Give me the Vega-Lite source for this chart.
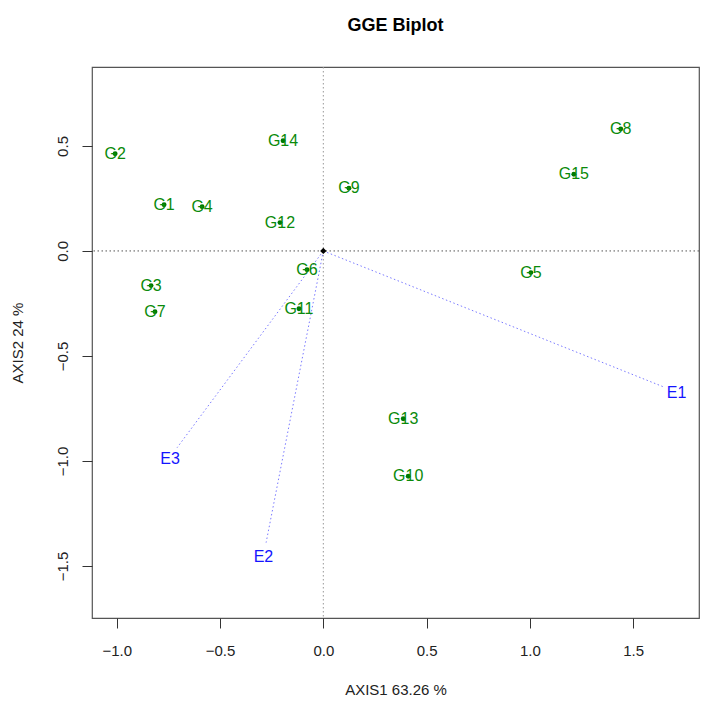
{
  "$schema": "https://vega.github.io/schema/vega-lite/v6.json",
  "autosize": "none",
  "width": 607,
  "height": 551,
  "padding": {"left": 92, "top": 67, "right": 24, "bottom": 93},
  "background": "white",
  "title": {"text": "GGE Biplot", "font": "Liberation Sans", "fontSize": 18, "fontWeight": "bold", "color": "#000", "offset": 32, "anchor": "middle"},
  "config": {
    "view": {"stroke": "#555", "strokeWidth": 1.2},
    "axis": {"grid": false, "domain": false, "tickColor": "#333", "tickSize": 10, "labelFont": "Liberation Sans", "labelFontSize": 15, "labelColor": "#222", "titleFont": "Liberation Sans", "titleFontSize": 15, "titleFontWeight": "normal", "titleColor": "#222"}
  },
  "datasets": {
    "genotypes": [
      {"g": "G1", "x": -0.771, "y": 0.22},
      {"g": "G2", "x": -1.008, "y": 0.463},
      {"g": "G3", "x": -0.834, "y": -0.165},
      {"g": "G4", "x": -0.587, "y": 0.211},
      {"g": "G5", "x": 1.005, "y": -0.103},
      {"g": "G6", "x": -0.079, "y": -0.089},
      {"g": "G7", "x": -0.815, "y": -0.289},
      {"g": "G8", "x": 1.44, "y": 0.581},
      {"g": "G9", "x": 0.124, "y": 0.299},
      {"g": "G10", "x": 0.411, "y": -1.073},
      {"g": "G11", "x": -0.118, "y": -0.275},
      {"g": "G12", "x": -0.21, "y": 0.135},
      {"g": "G13", "x": 0.387, "y": -0.799},
      {"g": "G14", "x": -0.195, "y": 0.525},
      {"g": "G15", "x": 1.213, "y": 0.365}
    ],
    "environments": [
      {"e": "E1", "ox": 0, "oy": 0, "ex": 1.644, "ey": -0.646, "lx": 1.71, "ly": -0.676},
      {"e": "E2", "ox": 0, "oy": 0, "ex": -0.277, "ey": -1.389, "lx": -0.29, "ly": -1.457},
      {"e": "E3", "ox": 0, "oy": 0, "ex": -0.708, "ey": -0.937, "lx": -0.742, "ly": -0.989}
    ],
    "origin": [{"x": 0, "y": 0}]
  },
  "layer": [
    {
      "data": {"name": "origin"},
      "mark": {"type": "rule", "color": "#999", "strokeDash": [1.5, 2.5], "strokeWidth": 1},
      "encoding": {
        "x": {"field": "x", "type": "quantitative", "scale": {"domain": [-1.12, 1.819], "nice": false, "zero": false},
              "axis": {"values": [-1, -0.5, 0, 0.5, 1, 1.5], "format": ".1f", "title": "AXIS1 63.26 %", "labelPadding": 15, "titlePadding": 24}}
      }
    },
    {
      "data": {"name": "origin"},
      "mark": {"type": "rule", "color": "#555", "strokeDash": [1.5, 2.5], "strokeWidth": 1},
      "encoding": {
        "y": {"field": "y", "type": "quantitative", "scale": {"domain": [-1.748, 0.876], "nice": false, "zero": false},
              "axis": {"values": [-1.5, -1, -0.5, 0, 0.5], "format": ".1f", "title": "AXIS2 24 %", "labelAngle": -90, "labelAlign": "center", "labelBaseline": "bottom", "labelPadding": 12, "titlePadding": 30}}
      }
    },
    {
      "data": {"name": "environments"},
      "mark": {"type": "rule", "color": "#7a7aff", "strokeDash": [1.5, 2.5], "strokeWidth": 1},
      "encoding": {
        "x": {"field": "ox", "type": "quantitative"},
        "y": {"field": "oy", "type": "quantitative"},
        "x2": {"field": "ex"},
        "y2": {"field": "ey"}
      }
    },
    {
      "data": {"name": "environments"},
      "mark": {"type": "text", "color": "#1414ff", "font": "Liberation Sans", "fontSize": 16, "align": "center", "baseline": "middle"},
      "encoding": {
        "x": {"field": "lx", "type": "quantitative"},
        "y": {"field": "ly", "type": "quantitative"},
        "text": {"field": "e"}
      }
    },
    {
      "data": {"name": "genotypes"},
      "mark": {"type": "point", "filled": true, "color": "#007a00", "size": 24, "opacity": 1},
      "encoding": {
        "x": {"field": "x", "type": "quantitative"},
        "y": {"field": "y", "type": "quantitative"}
      }
    },
    {
      "data": {"name": "genotypes"},
      "mark": {"type": "text", "color": "#0a8a0a", "font": "Liberation Sans", "fontSize": 16, "align": "center", "baseline": "middle"},
      "encoding": {
        "x": {"field": "x", "type": "quantitative"},
        "y": {"field": "y", "type": "quantitative"},
        "text": {"field": "g"}
      }
    },
    {
      "data": {"name": "origin"},
      "mark": {"type": "point", "shape": "diamond", "filled": true, "color": "#000", "size": 40, "opacity": 1},
      "encoding": {
        "x": {"field": "x", "type": "quantitative"},
        "y": {"field": "y", "type": "quantitative"}
      }
    }
  ]
}
